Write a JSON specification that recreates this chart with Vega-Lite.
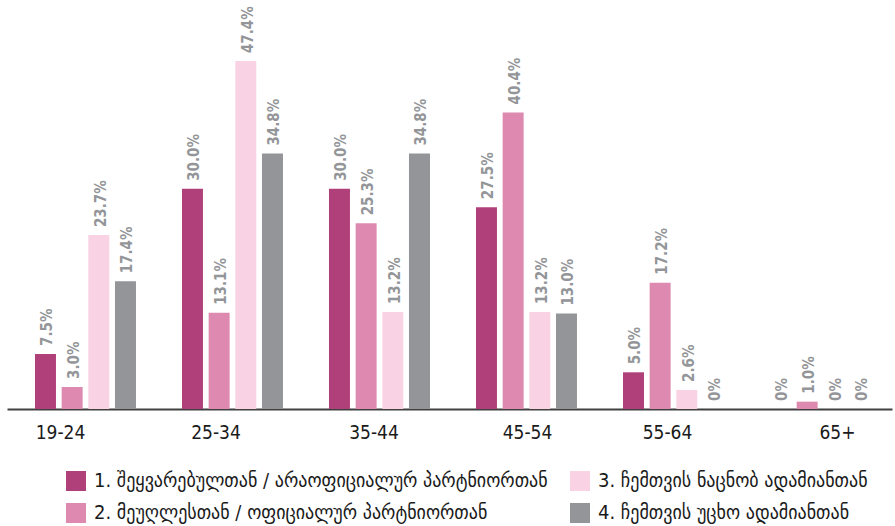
{
  "$schema": "https://vega.github.io/schema/vega-lite/v6.json",
  "autosize": "none",
  "width": 885,
  "height": 367,
  "padding": {"left": 7, "top": 42, "right": 3, "bottom": 117},
  "background": "white",
  "config": {"view": {"stroke": null}},
  "data": {
    "values": [
      {"age": "19-24", "series": "1. შეყვარებულთან / არაოფიციალურ პარტნიორთან", "value": 7.5, "label": "7.5%"},
      {"age": "19-24", "series": "2. მეუღლესთან / ოფიციალურ პარტნიორთან", "value": 3.0, "label": "3.0%"},
      {"age": "19-24", "series": "3. ჩემთვის ნაცნობ ადამიანთან", "value": 23.7, "label": "23.7%"},
      {"age": "19-24", "series": "4. ჩემთვის უცხო ადამიანთან", "value": 17.4, "label": "17.4%"},
      {"age": "25-34", "series": "1. შეყვარებულთან / არაოფიციალურ პარტნიორთან", "value": 30.0, "label": "30.0%"},
      {"age": "25-34", "series": "2. მეუღლესთან / ოფიციალურ პარტნიორთან", "value": 13.1, "label": "13.1%"},
      {"age": "25-34", "series": "3. ჩემთვის ნაცნობ ადამიანთან", "value": 47.4, "label": "47.4%"},
      {"age": "25-34", "series": "4. ჩემთვის უცხო ადამიანთან", "value": 34.8, "label": "34.8%"},
      {"age": "35-44", "series": "1. შეყვარებულთან / არაოფიციალურ პარტნიორთან", "value": 30.0, "label": "30.0%"},
      {"age": "35-44", "series": "2. მეუღლესთან / ოფიციალურ პარტნიორთან", "value": 25.3, "label": "25.3%"},
      {"age": "35-44", "series": "3. ჩემთვის ნაცნობ ადამიანთან", "value": 13.2, "label": "13.2%"},
      {"age": "35-44", "series": "4. ჩემთვის უცხო ადამიანთან", "value": 34.8, "label": "34.8%"},
      {"age": "45-54", "series": "1. შეყვარებულთან / არაოფიციალურ პარტნიორთან", "value": 27.5, "label": "27.5%"},
      {"age": "45-54", "series": "2. მეუღლესთან / ოფიციალურ პარტნიორთან", "value": 40.4, "label": "40.4%"},
      {"age": "45-54", "series": "3. ჩემთვის ნაცნობ ადამიანთან", "value": 13.2, "label": "13.2%"},
      {"age": "45-54", "series": "4. ჩემთვის უცხო ადამიანთან", "value": 13.0, "label": "13.0%"},
      {"age": "55-64", "series": "1. შეყვარებულთან / არაოფიციალურ პარტნიორთან", "value": 5.0, "label": "5.0%"},
      {"age": "55-64", "series": "2. მეუღლესთან / ოფიციალურ პარტნიორთან", "value": 17.2, "label": "17.2%"},
      {"age": "55-64", "series": "3. ჩემთვის ნაცნობ ადამიანთან", "value": 2.6, "label": "2.6%"},
      {"age": "55-64", "series": "4. ჩემთვის უცხო ადამიანთან", "value": 0, "label": "0%"},
      {"age": "65+", "series": "1. შეყვარებულთან / არაოფიციალურ პარტნიორთან", "value": 0, "label": "0%"},
      {"age": "65+", "series": "2. მეუღლესთან / ოფიციალურ პარტნიორთან", "value": 1.0, "label": "1.0%"},
      {"age": "65+", "series": "3. ჩემთვის ნაცნობ ადამიანთან", "value": 0, "label": "0%"},
      {"age": "65+", "series": "4. ჩემთვის უცხო ადამიანთან", "value": 0, "label": "0%"}
    ]
  },
  "encoding": {
    "x": {
      "field": "age",
      "type": "nominal",
      "sort": ["19-24", "25-34", "35-44", "45-54", "55-64", "65+"],
      "scale": {"paddingInner": 0.313, "paddingOuter": 0.1667, "align": 0.571},
      "axis": {
        "title": null,
        "labelAngle": 0,
        "ticks": false,
        "domainColor": "#404040",
        "domainWidth": 2,
        "labelFont": "DejaVu Sans Condensed",
        "labelFontSize": 19,
        "labelColor": "#1a1a1a",
        "labelPadding": 14,
        "labelOffset": {"expr": "datum.value==='19-24'?-25:datum.value==='25-34'?-16.5:datum.value==='35-44'?-5.5:datum.value==='45-54'?1:datum.value==='55-64'?-6:17"}
      }
    },
    "xOffset": {
      "field": "series",
      "type": "nominal",
      "sort": [
        "1. შეყვარებულთან / არაოფიციალურ პარტნიორთან",
        "2. მეუღლესთან / ოფიციალურ პარტნიორთან",
        "3. ჩემთვის ნაცნობ ადამიანთან",
        "4. ჩემთვის უცხო ადამიანთან"
      ],
      "scale": {"paddingInner": 0.213, "paddingOuter": 0}
    },
    "y": {
      "field": "value",
      "type": "quantitative",
      "scale": {"domain": [0, 50], "nice": false},
      "axis": null
    }
  },
  "layer": [
    {
      "mark": {"type": "bar"},
      "encoding": {
        "color": {
          "field": "series",
          "type": "nominal",
          "scale": {
            "domain": [
              "1. შეყვარებულთან / არაოფიციალურ პარტნიორთან",
              "3. ჩემთვის ნაცნობ ადამიანთან",
              "2. მეუღლესთან / ოფიციალურ პარტნიორთან",
              "4. ჩემთვის უცხო ადამიანთან"
            ],
            "range": ["#b0407a", "#f9d3e4", "#de8ab0", "#939598"]
          },
          "legend": {
            "title": null,
            "orient": "none",
            "legendX": 59,
            "legendY": 429,
            "columns": 2,
            "direction": "horizontal",
            "padding": 0,
            "symbolType": "square",
            "symbolSize": 400,
            "symbolStrokeWidth": 0,
            "labelFont": "DejaVu Sans Condensed",
            "labelFontSize": 20,
            "labelColor": "#1a1a1a",
            "labelLimit": 0,
            "labelOffset": 8,
            "rowPadding": 12,
            "columnPadding": 22
          }
        }
      }
    },
    {
      "mark": {
        "type": "text",
        "angle": 270,
        "align": "left",
        "baseline": "middle",
        "dx": 8,
        "dy": 2,
        "font": "DejaVu Sans Condensed",
        "fontSize": 15,
        "fontWeight": "bold",
        "color": "#939598"
      },
      "encoding": {
        "text": {"field": "label"}
      }
    }
  ]
}
